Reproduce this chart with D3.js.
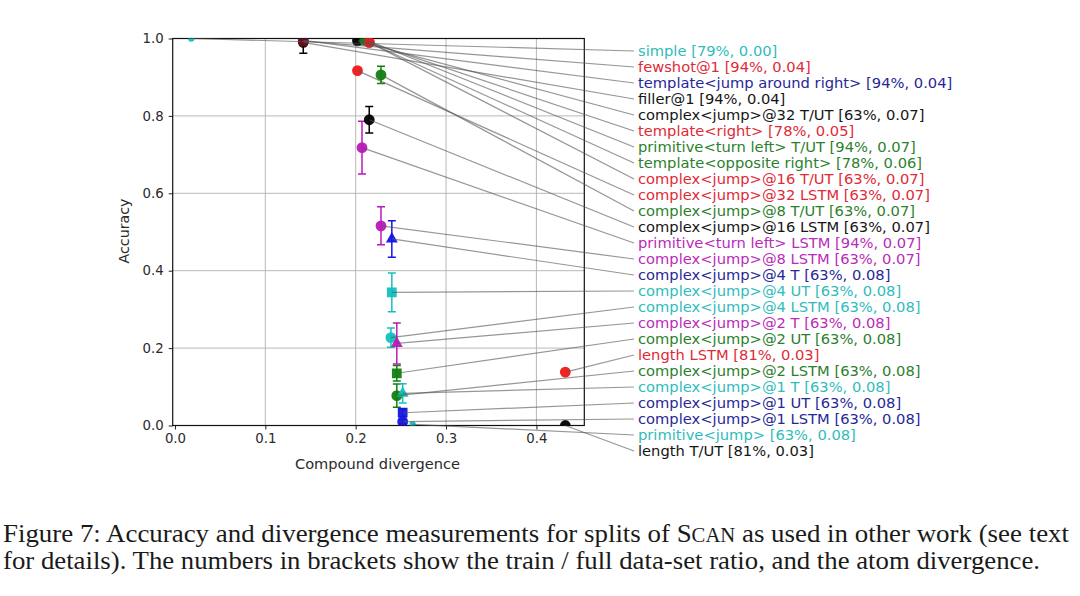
<!DOCTYPE html>
<html><head><meta charset="utf-8">
<script src="https://cdn.jsdelivr.net/npm/d3@7/dist/d3.min.js"></script>
<style>html,body{margin:0;padding:0;background:#fff;}svg{display:block;}</style>
</head><body>
<svg id="chart" width="1080" height="596"></svg>
<script>
const splitLabels = [
  "simple [79%, 0.00]",
  "fewshot@1 [94%, 0.04]",
  "template<jump around right> [94%, 0.04]",
  "filler@1 [94%, 0.04]",
  "complex<jump>@32 T/UT [63%, 0.07]",
  "template<right> [78%, 0.05]",
  "primitive<turn left> T/UT [94%, 0.07]",
  "template<opposite right> [78%, 0.06]",
  "complex<jump>@16 T/UT [63%, 0.07]",
  "complex<jump>@32 LSTM [63%, 0.07]",
  "complex<jump>@8 T/UT [63%, 0.07]",
  "complex<jump>@16 LSTM [63%, 0.07]",
  "primitive<turn left> LSTM [94%, 0.07]",
  "complex<jump>@8 LSTM [63%, 0.07]",
  "complex<jump>@4 T [63%, 0.08]",
  "complex<jump>@4 UT [63%, 0.08]",
  "complex<jump>@4 LSTM [63%, 0.08]",
  "complex<jump>@2 T [63%, 0.08]",
  "complex<jump>@2 UT [63%, 0.08]",
  "length LSTM [81%, 0.03]",
  "complex<jump>@2 LSTM [63%, 0.08]",
  "complex<jump>@1 T [63%, 0.08]",
  "complex<jump>@1 UT [63%, 0.08]",
  "complex<jump>@1 LSTM [63%, 0.08]",
  "primitive<jump> [63%, 0.08]",
  "length T/UT [81%, 0.03]"
];
const splitColorKeys = ["c","r","b","k","k","r","g","g","r","r","g","k","m","m","b","c","c","m","g","r","g","c","b","b","c","k"];
const compoundDivergence = [0.018,0.142,0.142,0.142,0.202,0.215,0.213,0.210,0.215,0.202,0.228,0.215,0.207,0.228,0.240,0.240,0.239,0.2455,0.2455,0.432,0.2455,0.252,0.252,0.252,0.263,0.432];
const accuracy = [1.000,0.993,0.995,0.990,0.994,0.990,0.995,0.995,0.990,0.917,0.906,0.790,0.718,0.516,0.482,0.344,0.227,0.212,0.135,0.138,0.077,0.083,0.033,0.010,0.003,0.000];
const accuracyErr = [0,0.004,0,0.028,0.004,0.004,0,0,0.004,0,0.022,0.034,0.068,0.049,0.047,0.050,0.025,0.053,0.020,0,0.030,0.025,0.010,0.006,0,0];
const markerShapes = ["dot","circle","circle","circle","circle","circle","circle","circle","circle","circle","circle","circle","circle","circle","triangle","square","circle","triangle","square","circle","circle","triangle","square","circle","dot","circle"];
const xTicks = [0.0,0.1,0.2,0.3,0.4];
const yTicks = [0.0,0.2,0.4,0.6,0.8,1.0];
const xTitle = "Compound divergence";
const yTitle = "Accuracy";
const captionLine1 = ["Figure 7: Accuracy and divergence measurements for splits of ", "S", "CAN", " as used in other work (see text"];
const captionLine2 = "for details). The numbers in brackets show the train / full data-set ratio, and the atom divergence.";

const markColor = {c:"#14bfbf", r:"#f01818", b:"#1515e0", k:"#000000", g:"#0f7f0f", m:"#bb18bb"};
const textColor = {c:"#30bcbc", r:"#e02a36", b:"#27279a", k:"#151515", g:"#2c7f2c", m:"#bb2abb"};

const svg = d3.select("#chart");
const L = 172.7, R = 584.3, T = 38.5, B = 425.5;
const x = d3.scaleLinear().domain([-0.0025, 0.453]).range([L, R]);
const y = d3.scaleLinear().domain([0, 1]).range([B, T]);
const labelY = d3.scalePoint().domain(d3.range(splitLabels.length)).range([51, 451]);
const labelX = 638, lineEndX = 634;

svg.append("defs").append("clipPath").attr("id","plotclip")
  .append("rect").attr("x",L).attr("y",T).attr("width",R-L).attr("height",B-T);

// grid
const grid = svg.append("g");
grid.selectAll("line.gx").data(xTicks.filter(d=>d>0)).join("line")
  .attr("x1",d=>x(d)).attr("x2",d=>x(d)).attr("y1",T).attr("y2",B)
  .attr("stroke","#b0b0b0").attr("stroke-width",0.9);
grid.selectAll("line.gy").data(yTicks.filter(d=>d>0&&d<1)).join("line")
  .attr("x1",L).attr("x2",R).attr("y1",d=>y(d)).attr("y2",d=>y(d))
  .attr("stroke","#b0b0b0").attr("stroke-width",0.9);

// axes
const xAxis = d3.axisBottom(x).tickValues(xTicks).tickFormat(d3.format(".1f")).tickSize(4).tickPadding(4);
const yAxis = d3.axisLeft(y).tickValues(yTicks).tickFormat(d3.format(".1f")).tickSize(4).tickPadding(5);
const gx = svg.append("g").attr("transform",`translate(0,${B})`).call(xAxis);
const gy = svg.append("g").attr("transform",`translate(${L},0)`).call(yAxis);
[gx,gy].forEach(g=>{
  g.select(".domain").remove();
  g.selectAll(".tick line").attr("stroke","#222").attr("stroke-width",1);
  g.selectAll(".tick text").attr("fill","#2a2a2a").style("font-family","DejaVu Sans").style("font-size","13.3px");
});

// frame
svg.append("rect").attr("x",L).attr("y",T).attr("width",R-L).attr("height",B-T)
  .attr("fill","none").attr("stroke","#111").attr("stroke-width",1.2);

// titles
svg.append("text").attr("x",(L+R)/2 - 1).attr("y",469).attr("text-anchor","middle")
  .attr("fill","#2a2a2a").style("font-family","DejaVu Sans").style("font-size","14.6px").text(xTitle);
svg.append("text").attr("transform",`translate(129,${(T+B)/2 - 1}) rotate(-90)`).attr("text-anchor","middle")
  .attr("fill","#2a2a2a").style("font-family","DejaVu Sans").style("font-size","14.2px").text(yTitle);

const idx = d3.range(splitLabels.length);

// data marks (clipped)
const plot = svg.append("g").attr("clip-path","url(#plotclip)");
const errIdx = idx.filter(i=>accuracyErr[i]>0);
const eb = plot.selectAll("g.err").data(errIdx).join("g")
  .attr("stroke",i=>markColor[splitColorKeys[i]]).attr("stroke-width",1.5);
eb.append("line").attr("x1",i=>x(compoundDivergence[i])).attr("x2",i=>x(compoundDivergence[i]))
  .attr("y1",i=>y(accuracy[i]-accuracyErr[i])).attr("y2",i=>y(accuracy[i]+accuracyErr[i]));
eb.append("line").attr("x1",i=>x(compoundDivergence[i])-4).attr("x2",i=>x(compoundDivergence[i])+4)
  .attr("y1",i=>y(accuracy[i]-accuracyErr[i])).attr("y2",i=>y(accuracy[i]-accuracyErr[i]));
eb.append("line").attr("x1",i=>x(compoundDivergence[i])-4).attr("x2",i=>x(compoundDivergence[i])+4)
  .attr("y1",i=>y(accuracy[i]+accuracyErr[i])).attr("y2",i=>y(accuracy[i]+accuracyErr[i]));

const symFor = s => s==="triangle" ? d3.symbol().type(d3.symbolTriangle).size(62)()
  : s==="square" ? d3.symbol().type(d3.symbolSquare).size(95)()
  : s==="dot" ? d3.symbol().type(d3.symbolCircle).size(32)()
  : d3.symbol().type(d3.symbolCircle).size(92)();
// draw order: hidden ones first so the overlaps look layered
const drawOrder = [2,3,1,4,7,6,5,8,0,9,10,11,12,13,14,15,16,17,18,19,20,21,22,23,24,25];
plot.selectAll("path.mk").data(drawOrder).join("path")
  .attr("d",i=>symFor(markerShapes[i]))
  .attr("transform",i=>`translate(${x(compoundDivergence[i])},${y(accuracy[i])})`)
  .attr("fill",i=>markColor[splitColorKeys[i]])
  .attr("fill-opacity",i=>i===1?0.45:0.95);

// connector lines (not clipped)
svg.append("g").selectAll("line").data(idx).join("line")
  .attr("x1",i=>x(compoundDivergence[i])).attr("y1",i=>y(accuracy[i]))
  .attr("x2",lineEndX).attr("y2",i=>labelY(i))
  .attr("stroke","#555").attr("stroke-opacity",0.62).attr("stroke-width",1.2);

// labels
svg.append("g").selectAll("text").data(idx).join("text")
  .attr("x",labelX).attr("y",i=>labelY(i)).attr("dy","0.36em")
  .attr("fill",i=>textColor[splitColorKeys[i]])
  .style("font-family","DejaVu Sans").style("font-size","14.7px")
  .text(i=>splitLabels[i]);

// caption
const cap = svg.append("g").style("font-family","Liberation Serif").attr("fill","#1a1a1a");
const t1 = cap.append("text").attr("x",3).attr("y",542).style("font-size","26px")
  .attr("textLength",1066).attr("lengthAdjust","spacingAndGlyphs");
captionLine1.forEach((s,k)=>{
  t1.append("tspan").style("font-size", k===2 ? "20px" : "26px").text(s);
});
cap.append("text").attr("x",3).attr("y",569).style("font-size","26px")
  .attr("textLength",1037).attr("lengthAdjust","spacingAndGlyphs").text(captionLine2);
</script>
</body></html>
